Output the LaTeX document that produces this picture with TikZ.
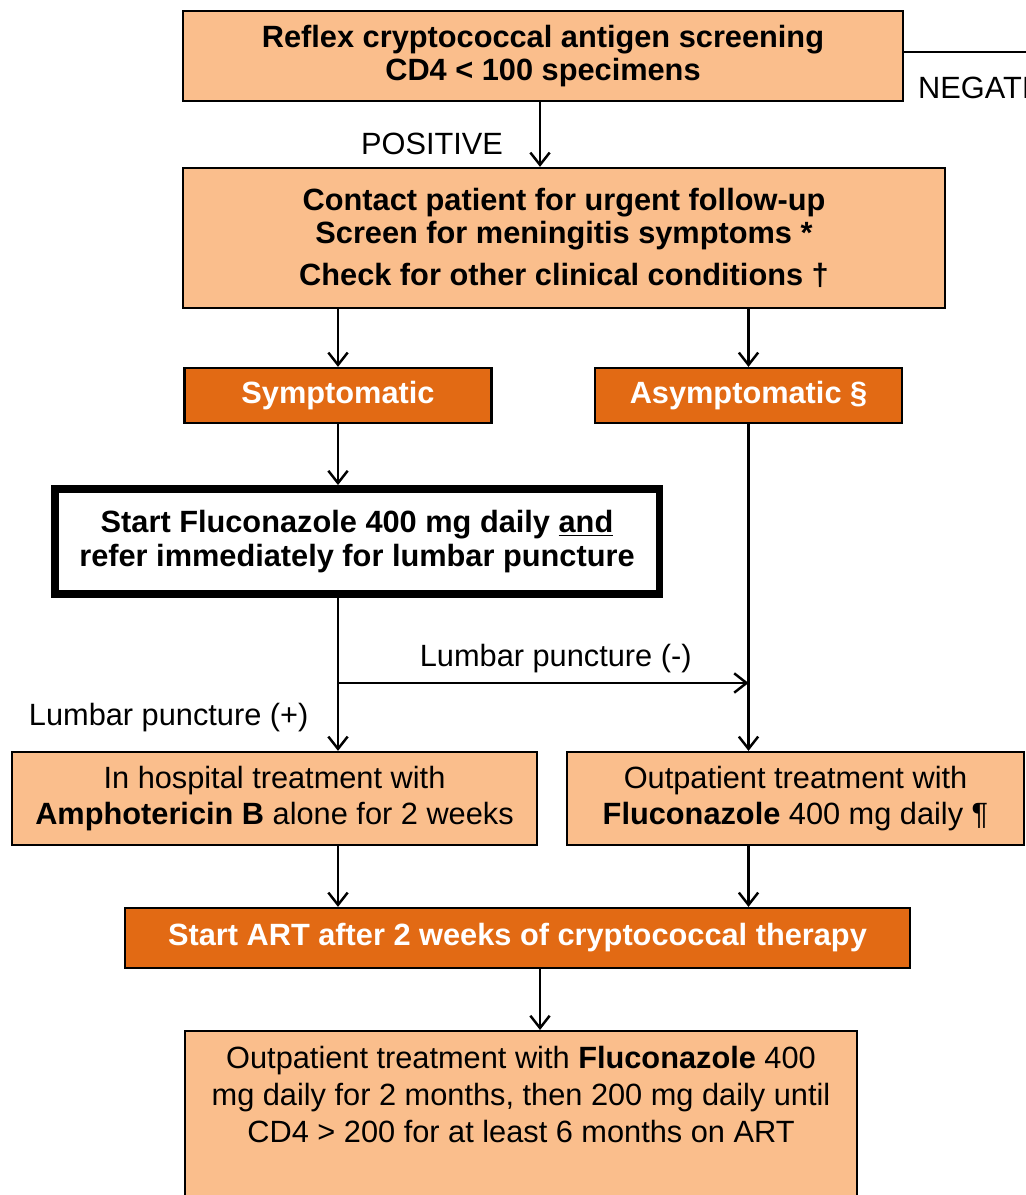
\documentclass[tikz,border=0pt]{standalone}
\usepackage{fontspec}
\setmainfont{Liberation Sans}
\usepackage{xcolor}
\usetikzlibrary{arrows.meta, positioning}
\definecolor{peachcolor}{RGB}{250,190,140}
\definecolor{rustcolor}{RGB}{226,106,20}

\begin{document}
\begin{tikzpicture}[
    x=0.02cm, y=-0.02cm,
    font=\fontsize{17.5}{19}\selectfont,
    box/.style={rectangle, draw, line width=1.3pt, align=center, inner sep=0pt},
    peachbox/.style={box, fill=peachcolor},
    rustbox/.style={box, fill=rustcolor, text=white, font=\fontsize{17.5}{19}\selectfont\bfseries},
    lpbox/.style={box, fill=white, line width=4.5pt, font=\fontsize{17.5}{19.5}\selectfont\bfseries},
    arrow/.style={line width=1.4pt, -{Straight Barb[length=7pt, width=11pt, line width=1.4pt]}}
]
\useasboundingbox (0,0) rectangle (1026,1195);

\node (screen) [peachbox, minimum width=14.4cm, minimum height=1.8cm, font=\fontsize{17.5}{18.8}\selectfont\bfseries] at (543,56) {Reflex cryptococcal antigen screening\\ CD4 < 100 specimens};
\node (contact) [peachbox, minimum width=15.24cm, minimum height=2.8cm, font=\fontsize{17.5}{18.8}\selectfont\bfseries] at (564,238) {Contact patient for urgent follow-up\\ Screen for meningitis symptoms *\\[5pt] Check for other clinical conditions †};
\node (sympt) [rustbox, minimum width=6.14cm, minimum height=1.1cm] at (338,395.5) {Symptomatic};
\node (asympt) [rustbox, minimum width=6.14cm, minimum height=1.1cm] at (748.5,395.5) {Asymptomatic §};
\node (fluco) [lpbox, minimum width=12.1cm, minimum height=2.1cm] at (357,541.5) {Start Fluconazole 400 mg daily \underline{and}\\ refer immediately for lumbar puncture};
\node (hosp) [peachbox, minimum width=10.5cm, minimum height=1.86cm, font=\fontsize{17.5}{20}\selectfont] at (274.5,798.5) {In hospital treatment with\\ \textbf{Amphotericin B} alone for 2 weeks};
\node (outpat) [peachbox, minimum width=9.14cm, minimum height=1.86cm, font=\fontsize{17.5}{20}\selectfont] at (795.5,798.5) {Outpatient treatment with\\ \textbf{Fluconazole} 400 mg daily ¶};
\node (art) [rustbox, minimum width=15.7cm, minimum height=1.2cm] at (517.5,938) {Start ART after 2 weeks of cryptococcal therapy};
\node (final) [peachbox, anchor=north, inner sep=0.3cm, font=\fontsize{17.5}{21}\selectfont] at (521,1030) {\parbox[t][3.6cm][t]{12.84cm}{\centering Outpatient treatment with \textbf{Fluconazole} 400\\ mg daily for 2 months, then 200 mg daily until\\ CD4 > 200 for at least 6 months on ART}};

% negative branch runs off the page
\coordinate (negend) at (1080,52);
\draw [line width=1.4pt] (screen.east |- negend) -- (negend) node[pos=0.04, below=0.35cm, anchor=north west] {NEGATIVE};

\draw [arrow] (screen.south -| 540,0) -- node[pos=0.65, left=0.6cm, anchor=east] {POSITIVE} (contact.north -| 540,0);
\draw [arrow] (contact.south -| sympt.south) -- (sympt.north);
\draw [arrow] (contact.south -| asympt.south) -- (asympt.north);
\draw [arrow] (sympt.south) -- (fluco.north -| sympt.south);

\coordinate (split) at (fluco.south -| sympt.south);
\coordinate (lpneg) at (split |- 0,683);
\draw [arrow] (split) -- node[pos=0.78, left=0.45cm, anchor=east] {Lumbar puncture (+)} (hosp.north -| sympt.south);
\draw [arrow] (lpneg) -- node[midway, above=2pt, xshift=0.25cm] {Lumbar puncture (-)} (lpneg -| asympt.south);
\draw [arrow] (asympt.south) -- (outpat.north -| asympt.south);

\draw [arrow] (hosp.south -| sympt.south) -- (art.north -| sympt.south);
\draw [arrow] (outpat.south -| asympt.south) -- (art.north -| asympt.south);
\draw [arrow] (art.south -| 540,0) -- (final.north -| 540,0);
\end{tikzpicture}
\end{document}
